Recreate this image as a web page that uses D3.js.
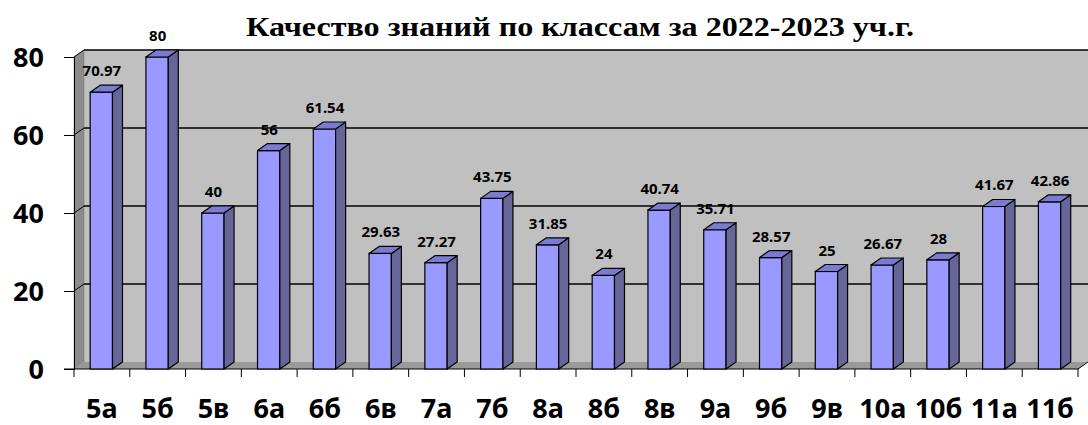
<!DOCTYPE html>
<meta charset="utf-8">
<style>
    body {
        margin: 0;
        background-color: #ffffff;
    }

    .tickLabel {
        font: bold 27px "Noto Sans", sans-serif;
    }

    .valueLabel {
        font: bold 15px "Noto Sans", sans-serif;
    }
</style>

<body>
    <svg width="1088" height="425"></svg>
    <script src="https://d3js.org/d3.v7.min.js"></script>
    <script>
        var classes = ["5а", "5б", "5в", "6а", "6б", "6в", "7а", "7б", "8а", "8б", "8в", "9а", "9б", "9в", "10а", "10б", "11а", "11б"];
        var quality = [70.97, 80, 40, 56, 61.54, 29.63, 27.27, 43.75, 31.85, 24, 40.74, 35.71, 28.57, 25, 26.67, 28, 41.67, 42.86];
        var yTicks = [0, 20, 40, 60, 80];
        var title = "Качество знаний по классам за 2022-2023 уч.г.";

        var data = classes.map(function (c, i) {
            return { name: c, value: quality[i] };
        });

        var svg = d3.select("svg");

        // depth of the 3d effect
        var dx = 10, dy = -7;

        var x = d3.scaleBand().domain(classes).range([74, 1078]),
            y = d3.scaleLinear().domain([0, 80]).range([369, 57]);

        var left = x.range()[0], right = x.range()[1];

        // back wall
        svg.append("rect")
            .attr("x", left + dx)
            .attr("y", y(80) + dy)
            .attr("width", 1088 - left - dx)
            .attr("height", y(0) - y(80))
            .attr("fill", "#C0C0C0");

        // side wall
        svg.append("path")
            .attr("d", "M" + left + "," + y(80) + "L" + (left + dx) + "," + (y(80) + dy) +
                "L" + (left + dx) + "," + (y(0) + dy) + "L" + left + "," + y(0) + "Z")
            .attr("fill", "#8C8C8C")
            .attr("stroke", "#707070")
            .attr("stroke-width", 0.5);

        // floor
        svg.append("path")
            .attr("d", "M" + left + "," + y(0) + "L" + (left + dx) + "," + (y(0) + dy) +
                "L" + (right + dx) + "," + (y(0) + dy) + "L" + right + "," + y(0) + "Z")
            .attr("fill", "#9A9A9A");

        // gridlines on wall
        var grid = svg.append("g");
        grid.selectAll(".gridBack")
            .data(yTicks.slice(1))
            .enter().append("line")
            .attr("x1", left + dx)
            .attr("x2", 1088)
            .attr("y1", function (d) { return y(d) + dy; })
            .attr("y2", function (d) { return y(d) + dy; })
            .attr("stroke", "#000")
            .attr("stroke-width", 1.3);
        grid.selectAll(".gridSide")
            .data(yTicks.slice(1))
            .enter().append("line")
            .attr("x1", left)
            .attr("x2", left + dx)
            .attr("y1", function (d) { return y(d); })
            .attr("y2", function (d) { return y(d) + dy; })
            .attr("stroke", "#000")
            .attr("stroke-width", 1);

        // axes
        var yAxis = svg.append("g")
            .attr("transform", "translate(" + left + ",0)")
            .call(d3.axisLeft(y).tickValues(yTicks).tickSize(10).tickPadding(20));
        yAxis.select(".domain").attr("stroke", "#000");
        yAxis.selectAll("text").attr("class", "tickLabel").attr("fill", "#000").attr("dy", "0.36em");

        var xAxis = svg.append("g")
            .attr("transform", "translate(0," + y(0) + ")")
            .call(d3.axisBottom(x).tickSize(0).tickPadding(30));
        xAxis.select(".domain").remove();
        xAxis.selectAll("text").attr("class", "tickLabel").attr("fill", "#000").attr("dy", "0.71em");

        svg.append("path")
            .attr("d", "M" + (left - 10) + "," + y(0) + "L" + right + "," + y(0) + "L" + (right + dx) + "," + (y(0) + dy))
            .attr("fill", "none")
            .attr("stroke", "#000");

        svg.append("g").selectAll("line")
            .data(classes.concat(["end"]))
            .enter().append("line")
            .attr("x1", function (d, i) { return left + i * x.bandwidth(); })
            .attr("x2", function (d, i) { return left + i * x.bandwidth(); })
            .attr("y1", y(0))
            .attr("y2", y(0) + 8)
            .attr("stroke", "#000");

        // bars
        var bw = x.bandwidth() * 0.4, off = x.bandwidth() * 0.29;
        var bars = svg.append("g").selectAll(".bar")
            .data(data)
            .enter().append("g")
            .attr("class", "bar");

        bars.append("rect")
            .attr("x", function (d) { return x(d.name) + off; })
            .attr("y", function (d) { return y(d.value); })
            .attr("width", bw)
            .attr("height", function (d) { return y(0) - y(d.value); })
            .attr("fill", "#9999FF")
            .attr("stroke", "#000")
            .attr("stroke-width", 1.2);

        bars.append("path")
            .attr("d", function (d) {
                var x0 = x(d.name) + off + bw, y0 = y(d.value), y1 = y(0);
                return "M" + x0 + "," + y0 + "L" + (x0 + dx) + "," + (y0 + dy) +
                    "L" + (x0 + dx) + "," + (y1 + dy) + "L" + x0 + "," + y1 + "Z";
            })
            .attr("fill", "#666699")
            .attr("stroke", "#000")
            .attr("stroke-width", 1.2)
            .attr("stroke-linejoin", "round");

        bars.append("path")
            .attr("d", function (d) {
                var x0 = x(d.name) + off, y0 = y(d.value);
                return "M" + x0 + "," + y0 + "L" + (x0 + dx) + "," + (y0 + dy) +
                    "L" + (x0 + bw + dx) + "," + (y0 + dy) + "L" + (x0 + bw) + "," + y0 + "Z";
            })
            .attr("fill", "#7B7BD2")
            .attr("stroke", "#000")
            .attr("stroke-width", 1.2)
            .attr("stroke-linejoin", "round");

        bars.append("text")
            .attr("class", "valueLabel")
            .attr("x", function (d) { return x(d.name) + x.bandwidth() / 2; })
            .attr("y", function (d) { return y(d.value) + dy - 9; })
            .attr("text-anchor", "middle")
            .text(function (d) { return d.value; });

        // title, stretched a little horizontally like the source picture
        svg.append("text")
            .attr("transform", "translate(580,36) scale(1.19,1)")
            .attr("text-anchor", "middle")
            .style("font-family", "'Liberation Serif', 'Times New Roman', serif")
            .style("font-weight", "bold")
            .style("font-size", "27px")
            .text(title);
    </script>
</body>
